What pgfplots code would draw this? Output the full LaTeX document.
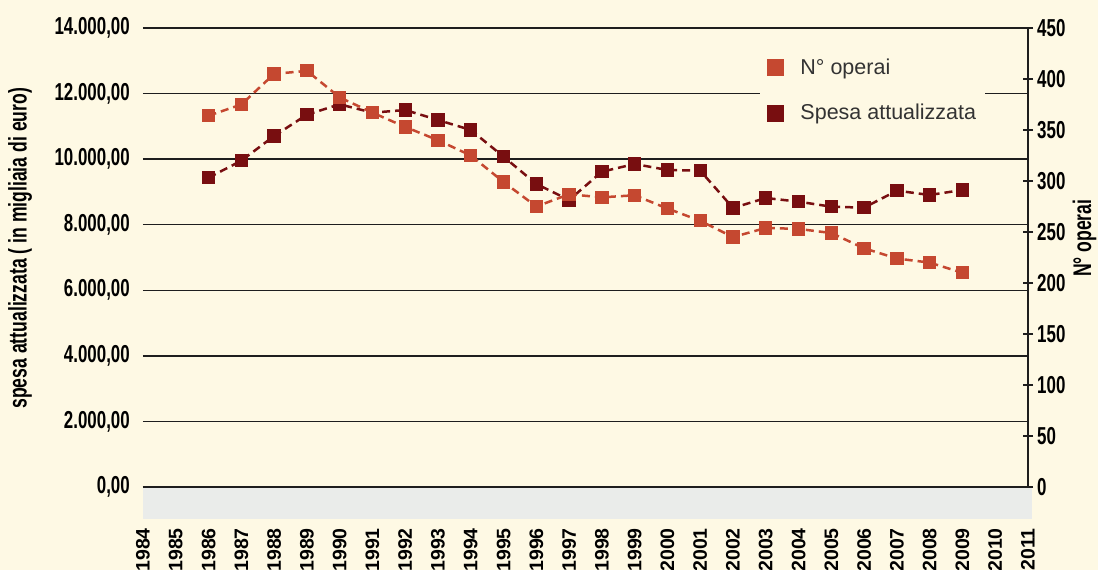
\documentclass[border=0pt]{standalone}
\usepackage{pgfplots}
\pgfplotsset{compat=1.18}
\usepackage{fontspec}
\setmainfont{Liberation Sans}
\newfontfamily\condfont[FakeStretch=0.69]{Liberation Sans}
\definecolor{cream}{HTML}{FEF9E4}
\definecolor{orangec}{HTML}{C54830}
\definecolor{darkc}{HTML}{780E10}
\definecolor{bandgray}{HTML}{EAECEA}
\definecolor{gridc}{HTML}{1E1E1E}
\definecolor{legtext}{HTML}{333333}
\newcommand{\tickfont}{\condfont\bfseries\fontsize{24.5}{28}\selectfont}
\newcommand{\labfont}{\condfont\bfseries\fontsize{25.5}{28}\selectfont}
\newcommand{\yearfont}{\bfseries\fontsize{19.5}{22}\selectfont}
\newcommand{\legfont}{\fontsize{21.5}{24}\selectfont}
\begin{document}
\begin{tikzpicture}
\useasboundingbox (-143pt,-83pt) rectangle (955pt,487pt);
\fill[cream] (-143pt,-83pt) rectangle (955pt,487pt);
\begin{axis}[
 scale only axis, width=885pt, height=459pt,
 xmin=1984, xmax=2011, ymin=0, ymax=14000,
 clip=false,
 scaled y ticks=false,
 axis line style={draw=none},
 major tick style={draw=none},
 xtick={1984,1985,...,2011},
 xticklabels={1984,1985,1986,1987,1988,1989,1990,1991,1992,1993,1994,1995,1996,1997,1998,1999,2000,2001,2002,2003,2004,2005,2006,2007,2008,2009,2010,2011},
 xticklabel style={font=\yearfont, rotate=90, anchor=east, inner sep=0pt},
 xticklabel shift=41pt,
 ytick={0,2000,4000,6000,8000,10000,12000,14000},
 yticklabels={{0,00},{2.000,00},{4.000,00},{6.000,00},{8.000,00},{10.000,00},{12.000,00},{14.000,00}},
 yticklabel style={font=\tickfont, anchor=east, inner sep=0pt, xshift=-13pt},
 ymajorgrids, grid style={gridc, line width=1.3pt},
 ylabel={spesa attualizzata ( in migliaia di euro)},
 ylabel style={at={(axis description cs:-0.139,0.52)}, anchor=center, font=\labfont},
]
\fill[bandgray] ([yshift=-1pt]axis cs:1984,0) rectangle ([xshift=4pt,yshift=-32pt]axis cs:2011,0);
\draw[gridc, line width=2pt] (axis cs:1984,0) -- (axis cs:2011,0);
\addplot[darkc, line width=2.5pt, dash pattern=on 8pt off 5pt, mark=square*, mark size=5.4pt, mark options={solid, draw=none, fill=darkc}] coordinates {
(1986,9434) (1987,9952) (1988,10706) (1989,11356) (1990,11673) (1991,11417) (1992,11499) (1993,11194) (1994,10889) (1995,10075) (1996,9242) (1997,8754) (1998,9617) (1999,9852) (2000,9669) (2001,9648) (2002,8510) (2003,8815) (2004,8703) (2005,8550) (2006,8520) (2007,9038) (2008,8907) (2009,9059)};
\end{axis}
\begin{axis}[
 scale only axis, width=885pt, height=459pt,
 xmin=1984, xmax=2011, ymin=0, ymax=450,
 clip=false,
 axis x line=none,
 axis y line*=right,
 y axis line style={gridc, line width=1.3pt, -},
 ytick={0,50,100,150,200,250,300,350,400,450},
 yticklabels={0,50,100,150,200,250,300,350,400,450},
 tick align=center, major tick length=10pt,
 ytick style={gridc, line width=1.3pt},
 yticklabel style={font=\tickfont, anchor=west, inner sep=0pt, xshift=4pt},
 ylabel={N° operai},
 ylabel style={at={(axis description cs:1.064,0.542)}, anchor=center, font=\labfont},
 legend cell align=left,
 legend style={at={(0.697,0.95)}, anchor=north west, fill=cream, draw=none, font=\legfont, text=legtext, inner xsep=7pt, inner ysep=6pt, row sep=24pt, /tikz/every odd column/.append style={column sep=15pt}},
]
\addplot[orangec, line width=2.5pt, dash pattern=on 8pt off 5pt, mark=square*, mark size=5.4pt, mark options={solid, draw=none, fill=orangec}, forget plot] coordinates {
(1986,364) (1987,375) (1988,405) (1989,408) (1990,382) (1991,367) (1992,353) (1993,340) (1994,325) (1995,299) (1996,275) (1997,287) (1998,284) (1999,286) (2000,273) (2001,261) (2002,245) (2003,254) (2004,253) (2005,249) (2006,234) (2007,224) (2008,220) (2009,210)};
\addlegendimage{legend image code/.code={\fill[orangec] (0pt,-8pt) rectangle (16pt,8pt);}}
\addlegendentry{N° operai}
\addlegendimage{legend image code/.code={\fill[darkc] (0pt,-8pt) rectangle (16pt,8pt);}}
\addlegendentry{Spesa attualizzata}
\end{axis}
\end{tikzpicture}
\end{document}
